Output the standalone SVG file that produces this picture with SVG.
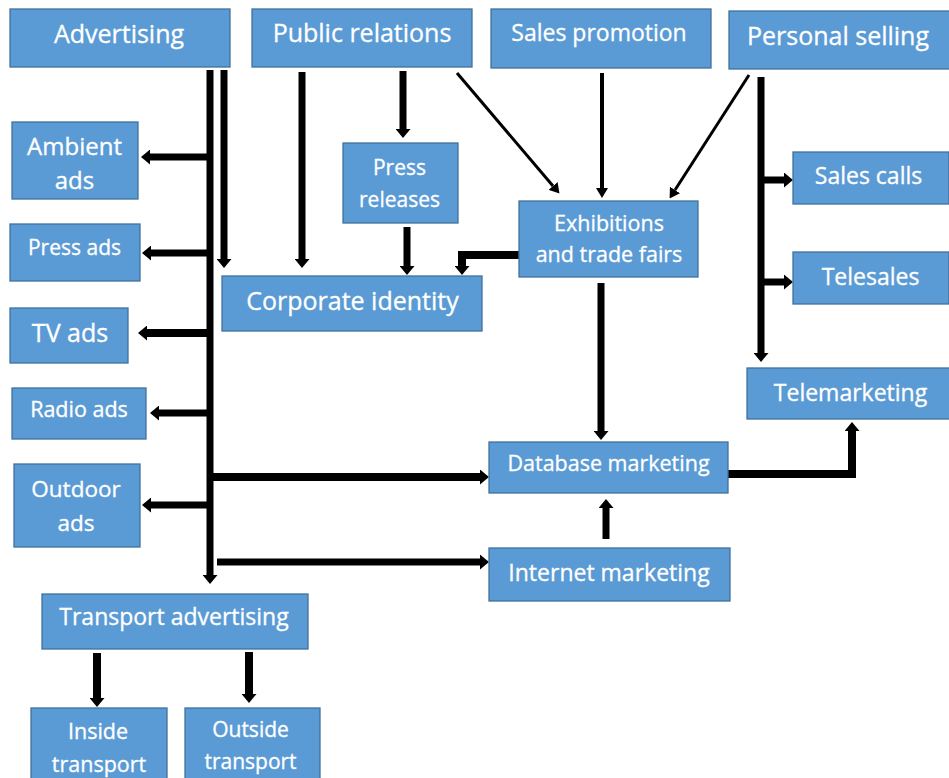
<svg xmlns="http://www.w3.org/2000/svg" width="949" height="778" viewBox="0 0 949 778">
<style>
.box{fill:#5B9BD5;stroke:#41719C;stroke-width:1.3}
.t{fill:#fff;font-family:"Open Sans","Liberation Sans",sans-serif;text-anchor:middle;stroke:#fff;stroke-width:0.3}
.c{fill:none;stroke:#000;stroke-linejoin:miter}
.w7{stroke-width:7}
.w8{stroke-width:8}
.w4{stroke-width:4}
.w3{stroke-width:3}
</style>
<defs>
<marker id="ah" viewBox="0 0 9 15" markerWidth="9" markerHeight="15" refX="0" refY="7.5" orient="auto" markerUnits="userSpaceOnUse"><path d="M0,0 L9,7.5 L0,15 z" fill="#000"/></marker>
<marker id="as" viewBox="0 0 10 12" markerWidth="10" markerHeight="12" refX="0" refY="6" orient="auto" markerUnits="userSpaceOnUse"><path d="M0,0 L10,6 L0,12 z" fill="#000"/></marker>
</defs>
<rect width="949" height="778" fill="#fff"/>
<g id="connectors">
<path class="c w7" d="M210,70 V575" marker-end="url(#ah)"/>
<path class="c w7" d="M224,70 V259" marker-end="url(#ah)"/>
<path class="c w7" d="M210,157 H150" marker-end="url(#ah)"/>
<path class="c w7" d="M210,253 H151" marker-end="url(#ah)"/>
<path class="c w8" d="M210,333 H147" marker-end="url(#ah)"/>
<path class="c w7" d="M210,413 H159" marker-end="url(#ah)"/>
<path class="c w7" d="M210,505 H151" marker-end="url(#ah)"/>
<path class="c w8" d="M210,477 H480" marker-end="url(#ah)"/>
<path class="c w7" d="M217,562 H480" marker-end="url(#ah)"/>
<path class="c w7" d="M302,72 V259" marker-end="url(#ah)"/>
<path class="c w7" d="M403,71 V129" marker-end="url(#ah)"/>
<path class="c w7" d="M407,227 V266" marker-end="url(#ah)"/>
<path class="c w8" d="M519,255 H462 V266" marker-end="url(#ah)"/>
<path class="c w3" d="M457,73 L553,186" marker-end="url(#as)"/>
<path class="c w4" d="M602,73 V188" marker-end="url(#as)"/>
<path class="c w3" d="M749,75 L675,190" marker-end="url(#as)"/>
<path class="c w7" d="M761,77 V353" marker-end="url(#ah)"/>
<path class="c w7" d="M761,180 H784" marker-end="url(#ah)"/>
<path class="c w7" d="M761,282 H784" marker-end="url(#ah)"/>
<path class="c w7" d="M601,283 V431" marker-end="url(#ah)"/>
<path class="c w7" d="M606,539 V508" marker-end="url(#ah)"/>
<path class="c w8" d="M728,474 H852 V431" marker-end="url(#ah)"/>
<path class="c w8" d="M97,653 V698" marker-end="url(#ah)"/>
<path class="c w8" d="M249,652 V694" marker-end="url(#ah)"/>
</g>
<g id="advertising"><rect class="box" x="10" y="9" width="220" height="58"/><text class="t" x="119" y="43" font-size="25">Advertising</text></g>
<g id="public-relations"><rect class="box" x="252" y="9" width="220" height="58"/><text class="t" x="362" y="42" font-size="25">Public relations</text></g>
<g id="sales-promotion"><rect class="box" x="491" y="9" width="220" height="59"/><text class="t" x="599" y="41" font-size="23">Sales promotion</text></g>
<g id="personal-selling"><rect class="box" x="729" y="11" width="222" height="58"/><text class="t" x="838" y="45" font-size="25">Personal selling</text></g>
<g id="ambient-ads"><rect class="box" x="12" y="122" width="126" height="77"/><text class="t" x="74.5" y="155" font-size="24">Ambient</text><text class="t" x="74.5" y="189" font-size="24">ads</text></g>
<g id="press-ads"><rect class="box" x="10" y="224" width="130" height="57"/><text class="t" x="74.5" y="255" font-size="21">Press ads</text></g>
<g id="tv-ads"><rect class="box" x="10" y="308" width="118" height="55"/><text class="t" x="70" y="342" font-size="25">TV ads</text></g>
<g id="radio-ads"><rect class="box" x="12" y="388" width="134" height="51"/><text class="t" x="79" y="417" font-size="21.5">Radio ads</text></g>
<g id="outdoor-ads"><rect class="box" x="14" y="464" width="126" height="83"/><text class="t" x="76" y="497" font-size="22.5">Outdoor</text><text class="t" x="76" y="531" font-size="22.5">ads</text></g>
<g id="transport-advertising"><rect class="box" x="42" y="594" width="266" height="55"/><text class="t" x="174" y="625" font-size="23">Transport advertising</text></g>
<g id="inside-transport"><rect class="box" x="31" y="708" width="136" height="80"/><text class="t" x="98" y="739" font-size="21.5">Inside</text><text class="t" x="99" y="772" font-size="21.5">transport</text></g>
<g id="outside-transport"><rect class="box" x="185" y="708" width="135" height="80"/><text class="t" x="250.5" y="737" font-size="21">Outside</text><text class="t" x="250.5" y="769" font-size="21">transport</text></g>
<g id="press-releases"><rect class="box" x="343" y="143" width="115" height="80"/><text class="t" x="399.5" y="175" font-size="21">Press</text><text class="t" x="399.5" y="207" font-size="21">releases</text></g>
<g id="corporate-identity"><rect class="box" x="222" y="276" width="260" height="55"/><text class="t" x="352.5" y="310" font-size="25">Corporate identity</text></g>
<g id="exhibitions"><rect class="box" x="519" y="201" width="179" height="76"/><text class="t" x="609" y="231" font-size="21.5">Exhibitions</text><text class="t" x="609" y="262" font-size="21.5">and trade fairs</text></g>
<g id="sales-calls"><rect class="box" x="793" y="152" width="156" height="52"/><text class="t" x="868.5" y="184" font-size="23">Sales calls</text></g>
<g id="telesales"><rect class="box" x="793" y="252" width="156" height="52"/><text class="t" x="870.5" y="285" font-size="23">Telesales</text></g>
<g id="telemarketing"><rect class="box" x="747" y="368" width="204" height="51"/><text class="t" x="850.5" y="401" font-size="23">Telemarketing</text></g>
<g id="database-marketing"><rect class="box" x="489" y="442" width="239" height="51"/><text class="t" x="608.5" y="471" font-size="21.5">Database marketing</text></g>
<g id="internet-marketing"><rect class="box" x="489" y="548" width="241" height="53"/><text class="t" x="609" y="581" font-size="23">Internet marketing</text></g>
</svg>
